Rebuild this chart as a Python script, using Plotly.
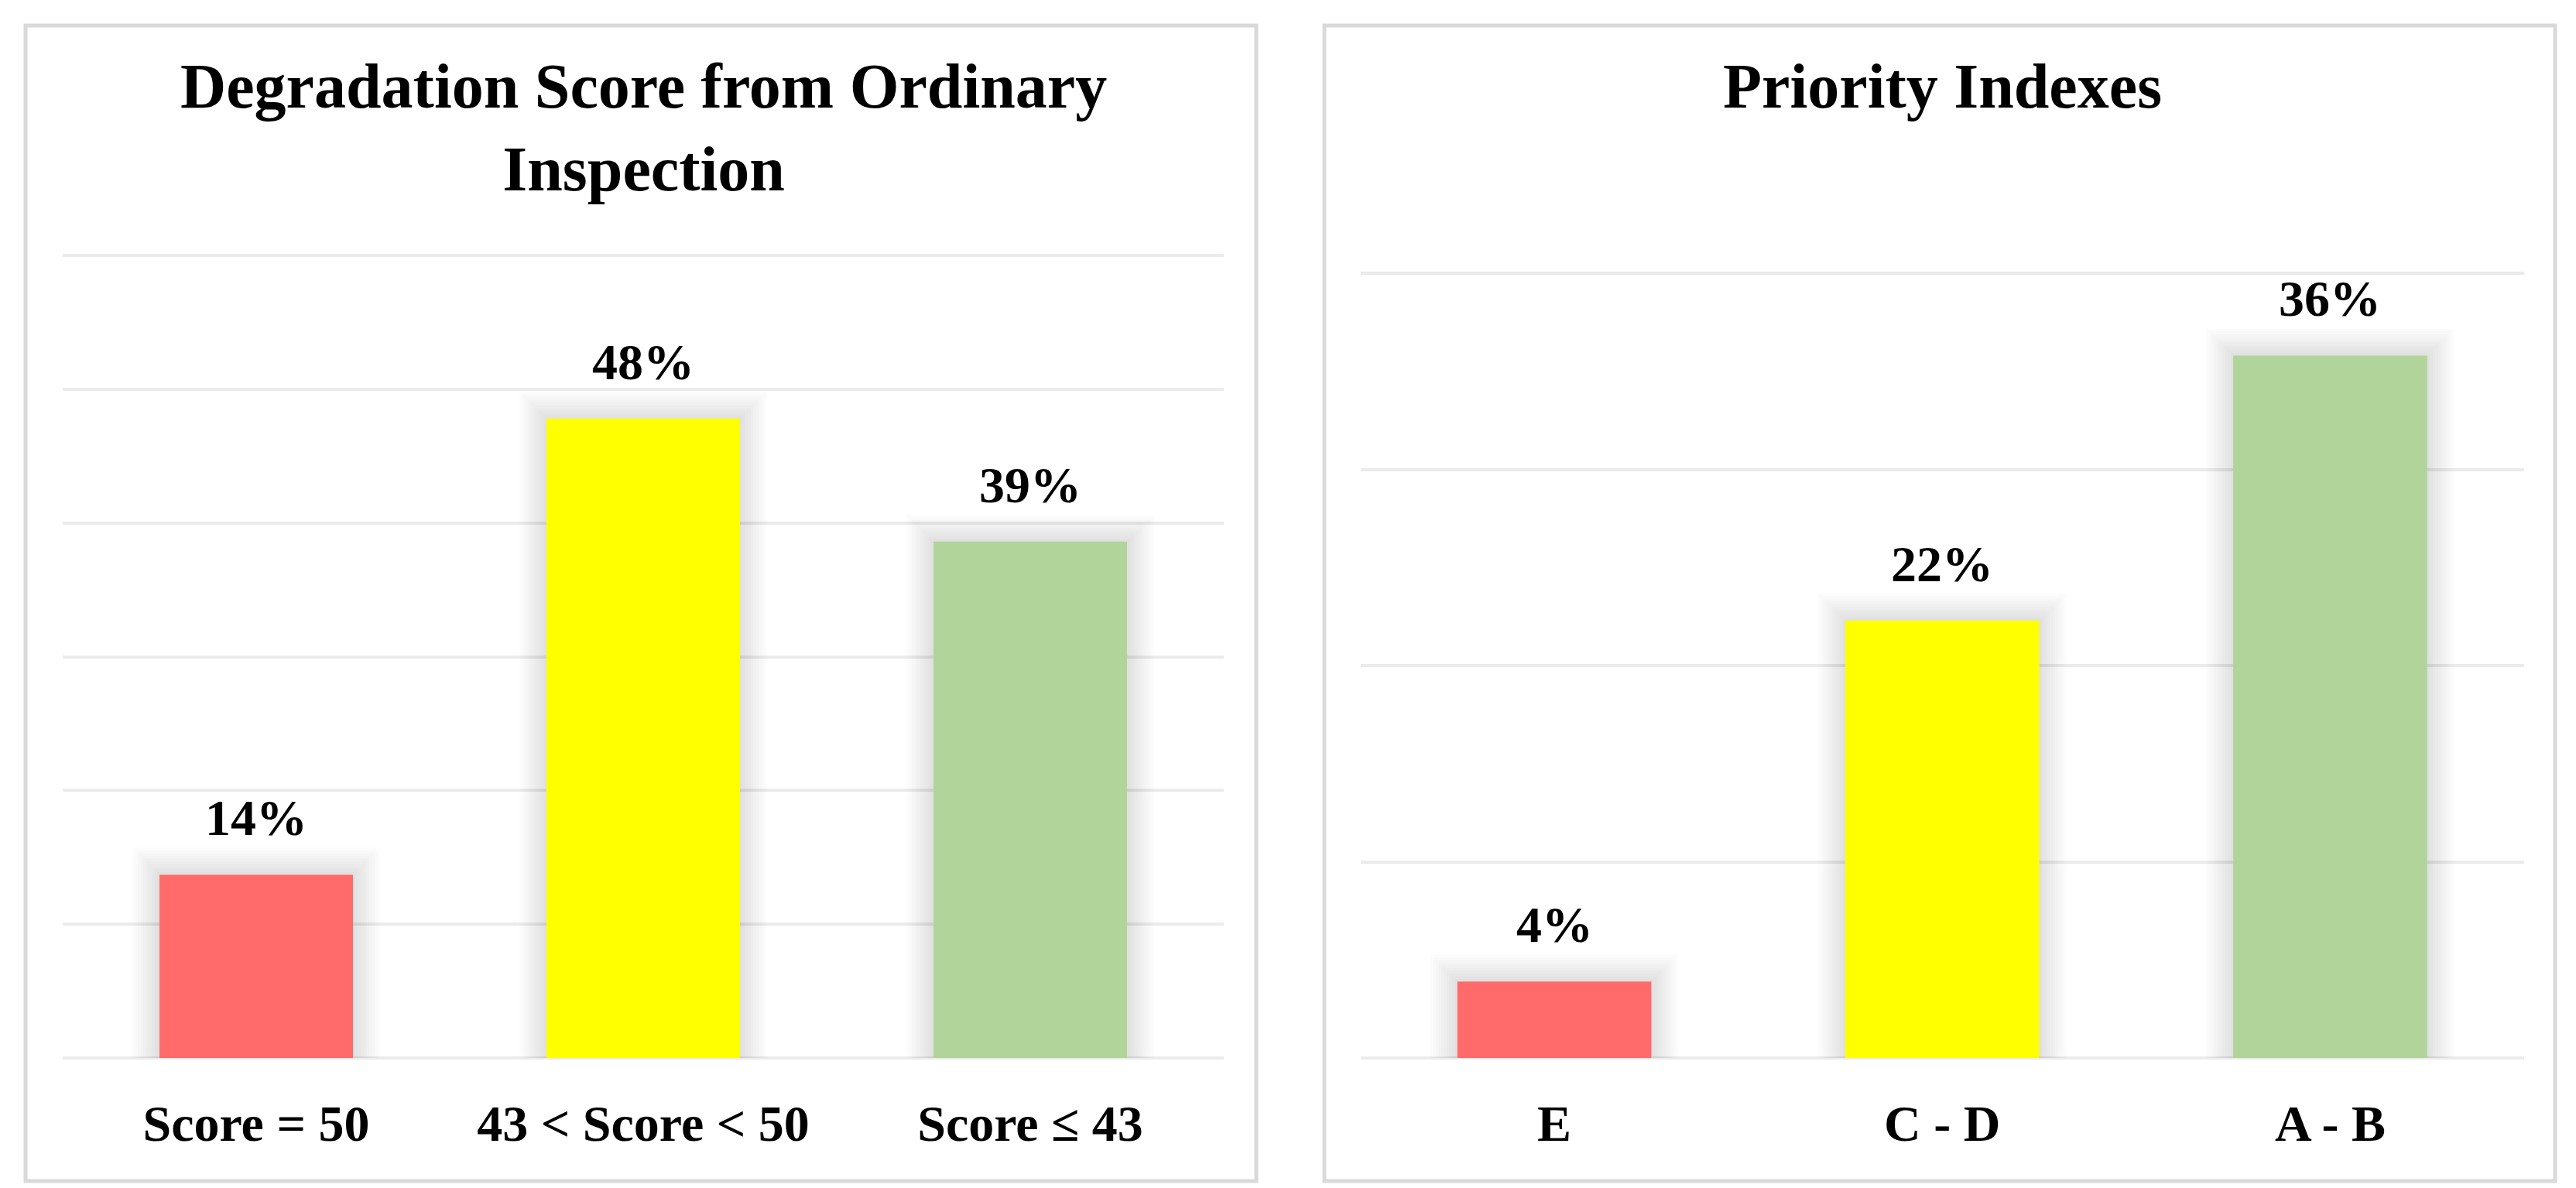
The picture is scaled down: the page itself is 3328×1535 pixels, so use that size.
import plotly.graph_objects as go

W, H = 3328, 1535

# ---- data ----
left_title = "Degradation Score from Ordinary<br>Inspection"
left_categories = ["Score = 50", "43 < Score < 50", "Score ≤ 43"]
left_values = [13.7, 47.8, 38.6]
left_labels = ["14%", "48%", "39%"]

right_title = "Priority Indexes"
right_categories = ["E", "C - D", "A - B"]
right_values = [3.9, 22.3, 35.8]
right_labels = ["4%", "22%", "36%"]

bar_colors = ["#FF6B6B", "#FFFF00", "#B0D499"]

FONT = "Liberation Serif"

# ---- layout geometry (pixels) ----
L_X0, L_X1 = 73, 1573
R_X0, R_X1 = 1749.5, 3253
Y_BOT = 1359
L_YTOP, R_YTOP = 322, 345
L_MAX, R_MAX = 60, 40
PAD = 4  # px of extra range so the end gridlines are drawn


def px(v):
    return v / W


def py(v):
    return 1 - v / H


fig = go.Figure()


def add_panel(cats, vals, xa, ya, ymax, ytop_px):
    per_unit = (Y_BOT - ytop_px) / ymax
    # soft shadow layers
    for k in range(1, 11):
        grow = k * 3.5
        fig.add_trace(go.Bar(
            x=cats, y=[v + grow / per_unit for v in vals],
            width=0.5 + 2 * grow / 500,
            marker=dict(color="rgba(0,0,0,0.011)", line=dict(width=0)),
            xaxis=xa, yaxis=ya, hoverinfo="skip", showlegend=False,
        ))
    fig.add_trace(go.Bar(
        x=cats, y=vals, width=0.5,
        marker=dict(color=bar_colors, line=dict(width=0)),
        xaxis=xa, yaxis=ya, showlegend=False,
    ))
    return per_unit


L_PU = add_panel(left_categories, left_values, "x", "y", L_MAX, L_YTOP)
R_PU = add_panel(right_categories, right_values, "x2", "y2", R_MAX, R_YTOP)

annotations = []
for cats, vals, labs, xr, yr in [
    (left_categories, left_values, left_labels, "x", "y"),
    (right_categories, right_values, right_labels, "x2", "y2"),
]:
    for c, v, t in zip(cats, vals, labs):
        annotations.append(dict(
            x=c, y=v, xref=xr, yref=yr, text="<b>" + t + "</b>",
            showarrow=False, xanchor="center",
            yanchor="bottom", yshift=35,
            font=dict(family=FONT, size=66, color="#000000"),
        ))

annotations.append(dict(
    x=px((L_X0 + L_X1) / 2), y=py(56), xref="paper", yref="paper",
    text="<b>" + left_title + "</b>", showarrow=False,
    xanchor="center", yanchor="top",
    font=dict(family=FONT, size=82, color="#000000"),
))
annotations.append(dict(
    x=px((R_X0 + R_X1) / 2), y=py(56), xref="paper", yref="paper",
    text="<b>" + right_title + "</b>", showarrow=False,
    xanchor="center", yanchor="top",
    font=dict(family=FONT, size=82, color="#000000"),
))

shapes = []
for x0, x1 in [(25, 1615), (1703, 3293)]:
    shapes.append(dict(
        type="rect", xref="paper", yref="paper",
        x0=px(x0), x1=px(x1), y0=py(1518), y1=py(25),
        line=dict(color="#d9d9d9", width=5), fillcolor="rgba(0,0,0,0)",
        layer="below",
    ))

axis_common = dict(
    showline=False, zeroline=False, showgrid=False, ticks="",
    tickfont=dict(family=FONT, size=66, color="#000000"),
    ticklabelstandoff=36, fixedrange=True,
)
yaxis_common = dict(
    showline=False, zeroline=False, showgrid=True, gridcolor="#ebebeb",
    gridwidth=4, showticklabels=False, ticks="", tick0=0, dtick=10,
    fixedrange=True,
)

fig.update_layout(
    width=W, height=H,
    margin=dict(l=0, r=0, t=0, b=0),
    paper_bgcolor="#ffffff", plot_bgcolor="rgba(0,0,0,0)",
    barmode="overlay", bargap=0.5,
    showlegend=False,
    font=dict(family=FONT, color="#000000"),
    xaxis=dict(domain=[px(L_X0), px(L_X1)], anchor="y",
               tickvals=left_categories,
               ticktext=["<b>" + c + "</b>" for c in left_categories],
               **axis_common),
    yaxis=dict(domain=[py(Y_BOT + PAD), py(L_YTOP - PAD)],
               range=[-PAD / L_PU, L_MAX + PAD / L_PU], anchor="x",
               **yaxis_common),
    xaxis2=dict(domain=[px(R_X0), px(R_X1)], anchor="y2",
                tickvals=right_categories,
                ticktext=["<b>" + c + "</b>" for c in right_categories],
                **axis_common),
    yaxis2=dict(domain=[py(Y_BOT + PAD), py(R_YTOP - PAD)],
                range=[-PAD / R_PU, R_MAX + PAD / R_PU], anchor="x2",
                **yaxis_common),
    annotations=annotations,
    shapes=shapes,
)

fig.write_html("out.html")
